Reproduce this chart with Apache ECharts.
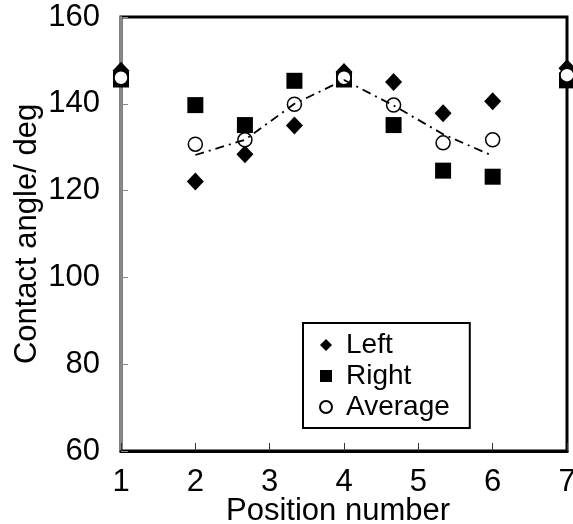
<!DOCTYPE html>
<html>
<head>
<meta charset="utf-8">
<script src="https://cdn.jsdelivr.net/npm/echarts@6/dist/echarts.min.js"></script>
<style>
  html, body { margin: 0; padding: 0; background: #fff; }
  #chart { width: 573px; height: 524px; }
</style>
</head>
<body>
<div id="chart"></div>
<script>
// Measurement positions along the sample
const positions = [1, 2, 2.667, 3.333, 4, 4.667, 5.333, 6, 7];
// Contact angles (deg) measured on the left and right side of the drop
const leftAngles = [147.6, 122.1, 128.4, 135.0, 147.3, 145.0, 137.8, 140.6, 148.2];
const rightAngles = [145.6, 139.7, 135.1, 145.3, 145.6, 135.1, 124.6, 123.2, 145.4];
const averageAngles = [146.0, 130.7, 131.7, 139.9, 146.0, 139.7, 131.0, 131.7, 146.6];
// Guide line across the inner positions
const guidePositions = [2, 2.667, 3.333, 4, 4.667, 5.333, 6];
const guideAngles = [128.2, 131.7, 140.0, 145.5, 139.6, 133.0, 128.0];
// Axis tick values
const xTicks = [1, 2, 3, 4, 5, 6, 7];
const yTicks = [60, 80, 100, 120, 140, 160];

const pairs = (xs, ys) => xs.map((x, i) => [x, ys[i]]);
const FONT = "'Liberation Sans', Arial, sans-serif";
const FS = 31;

const chart = echarts.init(document.getElementById('chart'), null, { renderer: 'canvas' });
chart.setOption({
  animation: false,
  backgroundColor: '#fff',
  textStyle: { fontFamily: FONT },
  grid: {
    left: 121, top: 17, right: 6, bottom: 73,
    containLabel: false,
    outerBoundsMode: 'none',
    show: true, borderColor: '#000', borderWidth: 3, backgroundColor: '#fff'
  },
  legend: {
    orient: 'vertical',
    left: 303, top: 323,
    padding: [8, 20, 7, 16],
    itemGap: 3,
    itemWidth: 12, itemHeight: 12,
    borderColor: '#000', borderWidth: 2,
    backgroundColor: '#fff',
    data: ['Left', 'Right', 'Average'],
    textStyle: { fontFamily: FONT, fontSize: 28, color: '#000', padding: [0, 0, 0, 9] }
  },
  xAxis: {
    type: 'value',
    min: xTicks[0], max: xTicks[xTicks.length - 1], interval: 1,
    name: 'Position number',
    nameLocation: 'middle',
    nameGap: 45,
    nameMoveOverlap: false,
    nameTextStyle: { fontFamily: FONT, fontSize: FS, color: '#000', padding: [0, 12, 0, 0] },
    axisLine: { show: true, lineStyle: { color: '#000', width: 3 } },
    axisTick: { show: true, inside: true, length: 8, lineStyle: { color: '#333', width: 1 } },
    axisLabel: { fontFamily: FONT, fontSize: FS, color: '#000', margin: 16 },
    splitLine: { show: false }
  },
  yAxis: {
    type: 'value',
    min: yTicks[0], max: yTicks[yTicks.length - 1], interval: 20,
    name: 'Contact angle/ deg',
    nameLocation: 'middle',
    nameGap: 78,
    nameMoveOverlap: false,
    nameTextStyle: { fontFamily: FONT, fontSize: FS, color: '#000' },
    axisLine: { show: true, lineStyle: { color: '#888', width: 2 } },
    axisTick: { show: true, inside: true, length: 7, lineStyle: { color: '#888', width: 1 } },
    axisLabel: { fontFamily: FONT, fontSize: FS, color: '#000', margin: 21 },
    splitLine: { show: false }
  },
  series: [
    {
      name: 'Left', type: 'scatter',
      symbol: 'diamond', symbolSize: [17, 18],
      itemStyle: { color: '#000', opacity: 1 },
      data: pairs(positions, leftAngles)
    },
    {
      name: 'Right', type: 'scatter',
      symbol: 'rect', symbolSize: 16,
      itemStyle: { color: '#000', opacity: 1 },
      data: pairs(positions, rightAngles)
    },
    {
      name: 'Average', type: 'scatter',
      symbol: 'circle', symbolSize: 14,
      itemStyle: { color: '#fff', borderColor: '#000', borderWidth: 1.5, opacity: 1 },
      data: pairs(positions, averageAngles)
    },
    {
      name: 'guide', type: 'line',
      symbol: 'none', z: 5,
      lineStyle: { color: '#000', width: 1.8, type: [9, 5, 2, 5] },
      data: pairs(guidePositions, guideAngles)
    }
  ]
});
</script>
</body>
</html>
